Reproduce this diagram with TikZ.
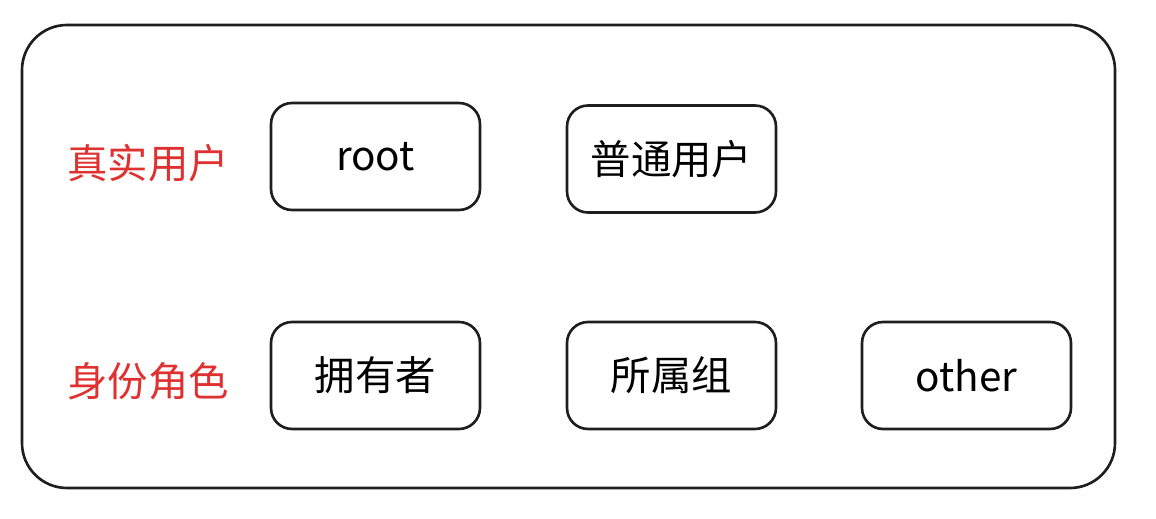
\documentclass[tikz,border=0pt]{standalone}
\usepackage{fontspec}
\setmainfont{Noto Sans CJK SC}
\usepackage{xcolor}
\definecolor{labelred}{RGB}{224, 49, 49}
\definecolor{edge}{RGB}{30, 30, 30}
\usepackage{tikz}
\usetikzlibrary{positioning}

\begin{document}
\begin{tikzpicture}[x=0.02cm, y=-0.02cm,
    rolebox/.style={draw=edge, line width=1.5pt, rounded corners=0.42cm,
      minimum width=4.18cm, minimum height=2.14cm, font=\fontsize{23}{26}\selectfont},
    rowlabel/.style={text=labelred, font=\fontsize{23}{26}\selectfont}]
  % frame
  \useasboundingbox (0,0) rectangle (1156,519);
  \draw[edge, line width=1.5pt, rounded corners=0.9cm] (22,25) rectangle (1115,488);
  % first row
  \node[rowlabel] (real) at (148,163) {真实用户};
  \node[rolebox] (root) at (375.5,156.5) {root};
  \node[rolebox] (normal) at (671.5,159) {普通用户};
  % second row
  \node[rowlabel] (role) at (148,381) {身份角色};
  \node[rolebox] (owner) at (375.5,375.5) {拥有者};
  \node[rolebox] (group) at (671.5,375.5) {所属组};
  \node[rolebox] (other) at (966.5,375.5) {other};
\end{tikzpicture}
\end{document}
